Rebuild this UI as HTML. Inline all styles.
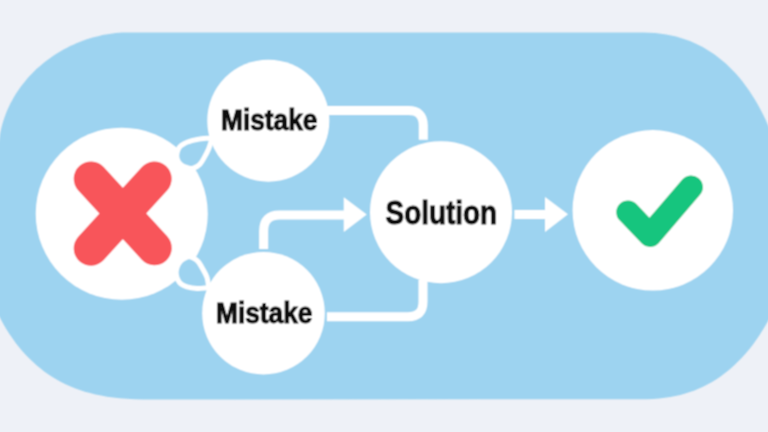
<!DOCTYPE html>
<html><head><meta charset="utf-8"><style>
html,body{margin:0;padding:0;background:#EEF1F7;}
body{width:768px;height:432px;overflow:hidden;}
svg{display:block;;}
text{will-change:transform;}
text{font-family:"Liberation Sans",sans-serif;font-weight:bold;fill:#0A0A0A;stroke:#0A0A0A;stroke-width:1px;}
</style></head><body>
<svg width="768" height="432" viewBox="0 0 768 432">
<defs><filter id="soft" filterUnits="userSpaceOnUse" x="-20" y="-20" width="808" height="472"><feConvolveMatrix order="3" kernelMatrix="0.0625 0.125 0.0625 0.125 0.25 0.125 0.0625 0.125 0.0625" edgeMode="duplicate" preserveAlpha="false"/></filter></defs>
<rect width="768" height="432" fill="#EEF1F7"/>
<g filter="url(#soft)">
<path d="M-1.4 150.9 L-1.4 148.1 L-1.2 145.2 L-1.0 142.2 L-0.7 139.2 L-0.2 136.2 L0.3 133.1 L0.9 130.1 L1.6 127.1 L2.4 124.0 L3.3 121.0 L4.3 118.0 L5.4 115.0 L6.5 112.0 L7.8 109.1 L9.1 106.2 L10.5 103.3 L12.1 100.4 L13.7 97.6 L15.3 94.8 L17.1 92.0 L19.0 89.3 L20.9 86.6 L22.9 84.0 L25.0 81.4 L27.1 78.8 L29.3 76.3 L31.6 73.9 L34.0 71.5 L36.4 69.1 L38.9 66.9 L41.5 64.7 L44.1 62.5 L46.8 60.4 L49.6 58.4 L52.3 56.4 L55.2 54.5 L58.1 52.7 L61.0 50.9 L64.0 49.3 L67.1 47.7 L70.1 46.1 L73.3 44.7 L76.4 43.3 L79.6 42.0 L82.8 40.8 L86.0 39.6 L89.3 38.6 L92.6 37.6 L95.9 36.7 L99.2 35.9 L102.5 35.1 L105.9 34.5 L109.2 33.9 L112.5 33.5 L115.8 33.1 L119.1 32.8 L122.4 32.6 L125.7 32.4 L128.8 32.4 L634.6 32.4 L643.1 32.4 L649.5 32.7 L655.4 33.1 L660.9 33.8 L666.2 34.5 L671.2 35.5 L676.1 36.6 L680.8 37.9 L685.4 39.4 L689.9 41.1 L694.3 42.9 L698.5 44.9 L702.7 47.0 L706.7 49.4 L710.7 51.9 L714.6 54.5 L718.4 57.4 L722.1 60.4 L725.8 63.5 L729.3 66.9 L732.8 70.4 L736.2 74.0 L739.5 77.8 L742.7 81.8 L745.8 86.0 L748.9 90.3 L751.8 94.7 L754.7 99.3 L757.5 104.1 L760.2 109.0 L762.8 114.1 L765.4 119.3 L767.8 124.7 L770.2 130.3 L772.5 136.0 L774.7 141.8 L776.8 147.8 L778.8 154.0 L780.7 160.3 L782.5 166.7 L784.3 173.3 L785.9 180.1 L787.5 187.0 L789.0 194.1 L790.3 201.3 L791.6 208.7 L801.0 220.7 L799.6 228.1 L798.2 235.3 L796.6 242.5 L795.0 249.4 L793.2 256.2 L791.4 262.9 L789.4 269.4 L787.4 275.7 L785.3 281.9 L783.1 288.0 L780.8 293.9 L778.4 299.7 L775.9 305.3 L773.3 310.8 L770.6 316.1 L767.9 321.2 L765.0 326.2 L762.1 331.1 L759.1 335.8 L756.0 340.3 L752.8 344.7 L749.5 348.9 L746.1 352.9 L742.7 356.8 L739.1 360.5 L735.5 364.1 L731.8 367.5 L728.0 370.7 L724.1 373.8 L720.2 376.7 L716.1 379.4 L712.0 381.9 L707.8 384.3 L703.5 386.5 L699.0 388.5 L694.5 390.4 L689.9 392.1 L685.2 393.6 L680.3 394.9 L675.3 396.1 L670.2 397.0 L664.8 397.8 L659.2 398.5 L653.3 398.9 L646.8 399.2 L638.6 399.3 L156.6 399.5 L143.3 399.4 L134.5 399.2 L126.8 398.8 L119.8 398.2 L113.3 397.5 L107.1 396.7 L101.2 395.6 L95.5 394.5 L90.1 393.1 L84.9 391.7 L79.8 390.0 L74.9 388.2 L70.1 386.3 L65.5 384.2 L61.0 381.9 L56.6 379.5 L52.4 377.0 L48.2 374.2 L44.2 371.4 L40.3 368.3 L36.5 365.2 L32.8 361.8 L29.1 358.3 L25.6 354.7 L22.2 350.9 L18.9 347.0 L15.7 342.9 L12.6 338.6 L9.6 334.2 L6.7 329.7 L3.9 325.0 L1.2 320.1 L-1.4 315.1 L-3.9 309.9 L-6.3 304.6 L-8.7 299.1 L-10.9 293.5 L-13.0 287.7 L-15.0 281.7 L-17.0 275.6 L-18.8 269.3 L-20.5 262.8 L-22.2 256.1 L-23.7 249.3 L-25.2 242.2 L-26.5 235.0 L-27.8 227.5 L-28.9 219.8Z" fill="#9DD3F0"/>
<g fill="none" stroke="#FFFFFF" stroke-width="9">
<path d="M326 110.6 H408.3 Q423.3 110.6 423.3 125.6 V139.8"/>
<path d="M326.9 316.8 H408 Q423 316.8 423 301.8 V280"/>
<path d="M263.65 249.1 V230.95 Q263.65 214.95 279.65 214.95 H346"/>
<path d="M514.4 214.45 H547"/>
</g>
<path d="M343.75 197.2 L366.7 214.5 L343.75 231.9Z" fill="#FFFFFF"/>
<path d="M545 197 L568 214.3 L545 231.9Z" fill="#FFFFFF"/>
<circle cx="121.75" cy="213.7" r="86" fill="#FFFFFF"/>
<path d="M91 178.8 L154.5 248 M154.4 178.8 L91 248.4" stroke="#F8545A" stroke-width="34.6" stroke-linecap="round" fill="none"/>
<g fill="#FFFFFF" stroke="#FFFFFF" stroke-width="10" stroke-linejoin="round">
<path d="M208.72 140.80 C207.56 140.87 204.48 140.87 201.78 141.26 C199.08 141.65 195.30 142.34 192.52 143.11 C189.74 143.88 186.96 144.96 185.11 145.89 C183.26 146.81 182.33 147.43 181.41 148.67 C180.48 149.90 179.86 151.75 179.56 153.30 C179.25 154.84 179.09 156.38 179.56 157.93 C180.02 159.47 180.94 161.32 182.33 162.56 C183.72 163.79 186.19 164.79 187.89 165.33 C189.59 165.87 190.82 166.26 192.52 165.80 C194.22 165.33 196.38 164.33 198.07 162.56 C199.77 160.78 201.31 157.62 202.70 155.15 C204.09 152.68 205.40 150.13 206.41 147.74 C207.41 145.35 208.34 141.95 208.72 140.80Z"/>
<path d="M205.94 285.48 C204.48 285.56 200.16 286.10 197.15 285.94 C194.14 285.79 190.51 285.40 187.89 284.56 C185.27 283.71 182.95 282.86 181.41 280.85 C179.86 278.85 178.63 275.30 178.63 272.52 C178.63 269.74 179.86 266.35 181.41 264.19 C182.95 262.02 186.04 260.17 187.89 259.56 C189.74 258.94 191.13 259.86 192.52 260.48 C193.91 261.10 194.83 261.56 196.22 263.26 C197.61 264.96 199.46 268.20 200.85 270.67 C202.24 273.14 203.71 275.60 204.56 278.07 C205.40 280.54 205.71 284.25 205.94 285.48Z"/>
</g>
<g fill="#9DD3F0">
<path d="M208.72 140.80 C207.56 140.87 204.48 140.87 201.78 141.26 C199.08 141.65 195.30 142.34 192.52 143.11 C189.74 143.88 186.96 144.96 185.11 145.89 C183.26 146.81 182.33 147.43 181.41 148.67 C180.48 149.90 179.86 151.75 179.56 153.30 C179.25 154.84 179.09 156.38 179.56 157.93 C180.02 159.47 180.94 161.32 182.33 162.56 C183.72 163.79 186.19 164.79 187.89 165.33 C189.59 165.87 190.82 166.26 192.52 165.80 C194.22 165.33 196.38 164.33 198.07 162.56 C199.77 160.78 201.31 157.62 202.70 155.15 C204.09 152.68 205.40 150.13 206.41 147.74 C207.41 145.35 208.34 141.95 208.72 140.80Z"/>
<path d="M205.94 285.48 C204.48 285.56 200.16 286.10 197.15 285.94 C194.14 285.79 190.51 285.40 187.89 284.56 C185.27 283.71 182.95 282.86 181.41 280.85 C179.86 278.85 178.63 275.30 178.63 272.52 C178.63 269.74 179.86 266.35 181.41 264.19 C182.95 262.02 186.04 260.17 187.89 259.56 C189.74 258.94 191.13 259.86 192.52 260.48 C193.91 261.10 194.83 261.56 196.22 263.26 C197.61 264.96 199.46 268.20 200.85 270.67 C202.24 273.14 203.71 275.60 204.56 278.07 C205.40 280.54 205.71 284.25 205.94 285.48Z"/>
</g>
<circle cx="268.3" cy="120.65" r="61" fill="#FFFFFF"/>
<circle cx="263.5" cy="313.2" r="61.3" fill="#FFFFFF"/>
<circle cx="441" cy="212.2" r="71" fill="#FFFFFF"/>
<circle cx="652.8" cy="210.3" r="80.2" fill="#FFFFFF"/>
<path d="M628 212.2 L650 235.25 L691.15 187.15" stroke="#18C57E" stroke-width="23.5" stroke-linecap="round" stroke-linejoin="round" fill="none"/>
<text x="221" y="129.7" font-size="30" textLength="96.5" lengthAdjust="spacingAndGlyphs">Mistake</text>
<text x="216" y="322.6" font-size="30" textLength="96.5" lengthAdjust="spacingAndGlyphs">Mistake</text>
<text x="385.6" y="223.5" font-size="33.5" textLength="111.5" lengthAdjust="spacingAndGlyphs">Solution</text>
</g>
</svg>
</body></html>
